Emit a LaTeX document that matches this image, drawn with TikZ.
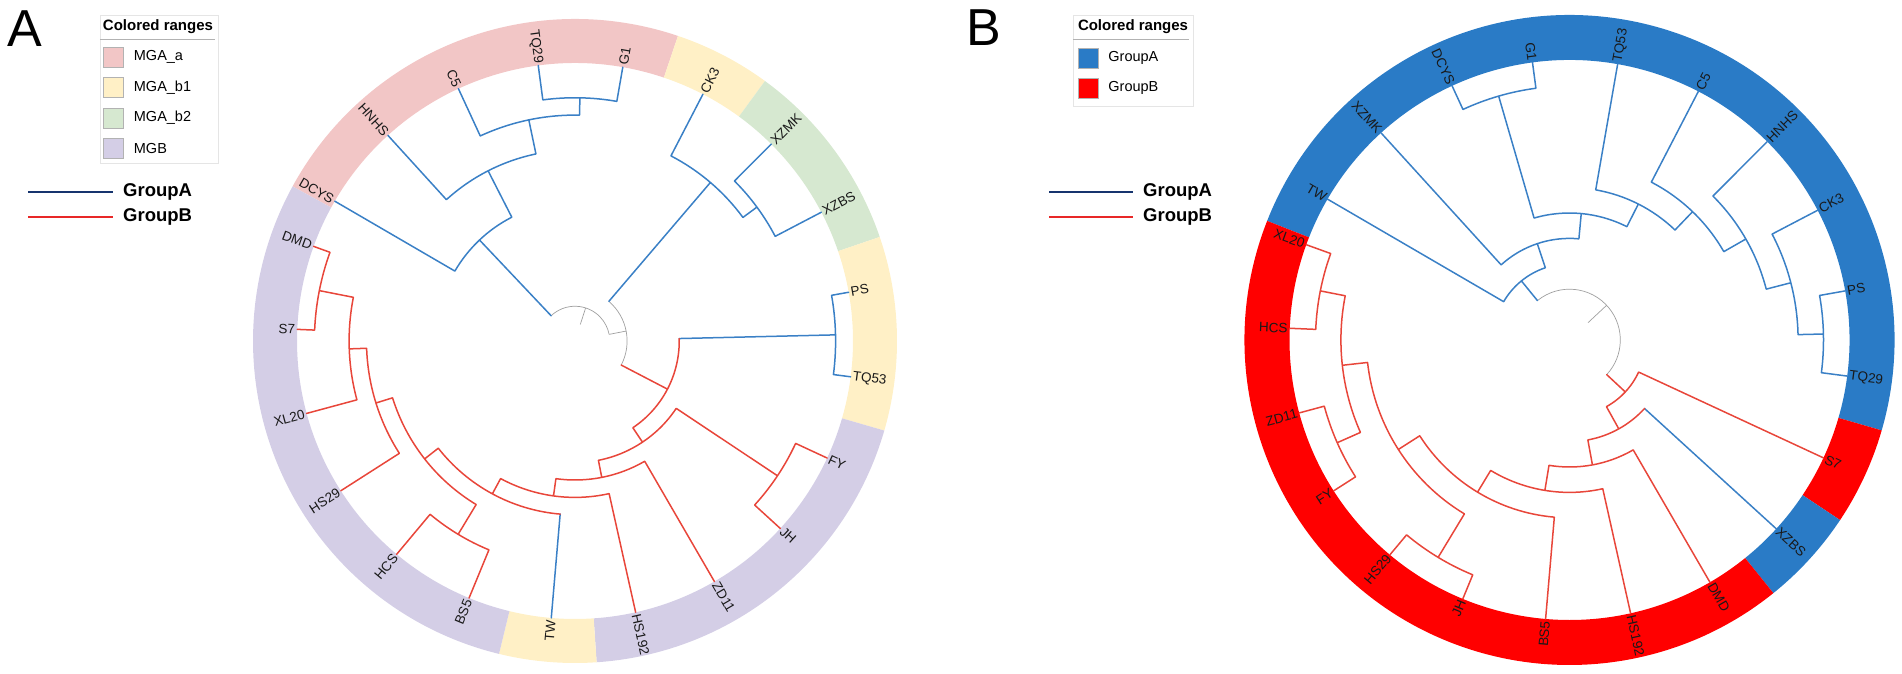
\documentclass[tikz,border=0pt]{standalone}
\usepackage{fontspec}
\setmainfont{Liberation Sans}
\usetikzlibrary{positioning}

\definecolor{treeblue}{RGB}{58,128,198}
\definecolor{treered}{RGB}{232,70,58}
\definecolor{rgpink}{RGB}{242,198,198}
\definecolor{rgyellow}{RGB}{255,240,198}
\definecolor{rggreen}{RGB}{214,232,208}
\definecolor{rgpurple}{RGB}{212,206,230}
\definecolor{ringblue}{RGB}{42,123,198}
\definecolor{ringred}{RGB}{255,0,0}
\definecolor{grpAline}{RGB}{22,52,110}
\definecolor{grpBline}{RGB}{232,40,40}

% radial branch: angle, from radius, to radius
\newcommand{\br}[3]{(#1:#2pt) -- (#1:#3pt)}
% arc of an inner node: radius, from angle, to angle
\newcommand{\ar}[3]{(#2:#1pt) arc[start angle=#2, end angle=#3, radius=#1pt]}
% coloured range: colour, from angle, to angle, inner radius, outer radius
\newcommand{\band}[5]{\fill[#1] (#2:#4pt) arc[start angle=#2, end angle=#3, radius=#4pt] -- (#3:#5pt) arc[start angle=#3, end angle=#2, radius=#5pt] -- cycle;}
% leaf labels: name, text, angle, radius
\newcommand{\lfR}[4]{\node[leaf, anchor=west, rotate=#3] (#1) at (#3:#4pt) {#2};}
\newcommand{\lfL}[4]{\node[leaf, anchor=east, rotate=#3+180] (#1) at (#3:#4pt) {#2};}

\begin{document}
\begin{tikzpicture}[x=1pt, y=1pt,
  bluebr/.style={treeblue, line width=1.5pt, line cap=round},
  redbr/.style={treered, line width=1.5pt, line cap=round},
  rootbr/.style={gray!75, line width=0.7pt},
  leaf/.style={font=\fontsize{13.5}{13.5}\selectfont, inner sep=1pt, text=black!90},
  panel/.style={font=\fontsize{52}{52}\selectfont, inner sep=0pt},
  legbox/.style={draw=black!10, fill=white, inner sep=0pt},
  legtitle/.style={font=\bfseries\fontsize{15}{15}\selectfont, inner sep=0pt},
  swatch/.style={draw=black!30, minimum size=20pt, inner sep=0pt},
  legtxt/.style={font=\fontsize{14.5}{14.5}\selectfont, inner sep=0pt},
  grptxt/.style={font=\bfseries\fontsize{18.5}{18.5}\selectfont, inner sep=0pt, anchor=west}]
  \useasboundingbox (0,0) rectangle (1902,673);

  % Panel letters
  \node[panel] (panelA) at (24.5,644.5) {A};
  \node[panel] (panelB) at (984,645) {B};

  % Legend of tree A
  \node[legbox, minimum width=118pt, minimum height=148pt] (legA) at (159,584) {};
  \node[legtitle] (legAtitle) at (158,646) {Colored ranges};
  \draw[gray!60, line width=1pt] (legA.west |- 0,633) -- ++(115,0);
  \node[swatch, fill=rgpink] (swA1) at (113.5,616) {};
  \node[swatch, fill=rgyellow, below=10pt of swA1] (swA2) {};
  \node[swatch, fill=rggreen, below=10pt of swA2] (swA3) {};
  \node[swatch, fill=rgpurple, below=10pt of swA3] (swA4) {};
  \node[legtxt, right=10pt of swA1] (txA1) {MGA\_a};
  \node[legtxt, right=10pt of swA2] (txA2) {MGA\_b1};
  \node[legtxt, right=10pt of swA3] (txA3) {MGA\_b2};
  \node[legtxt, right=10pt of swA4] (txA4) {MGB};
  \node[grptxt] (gA1) at (123,480.7) {GroupA};
  \node[grptxt] (gB1) at (123,456.3) {GroupB};
  \coordinate (lnA1) at (28,480.7);
  \coordinate (lnB1) at (28,456.3);
  \draw[grpAline, line width=1.8pt] (lnA1) -- ([xshift=-10pt]gA1.west);
  \draw[grpBline, line width=1.8pt] (lnB1) -- ([xshift=-10pt]gB1.west);

  % Legend of tree B
  \node[legbox, minimum width=120pt, minimum height=91pt] (legB) at (1133,612.5) {};
  \node[legtitle] (legBtitle) at (1133,646) {Colored ranges};
  \draw[gray!60, line width=1pt] (legB.west |- 0,633) -- ++(116,0);
  \node[swatch, fill=ringblue] (swB1) at (1088,615) {};
  \node[swatch, fill=ringred, below=10pt of swB1] (swB2) {};
  \node[legtxt, right=10pt of swB1] (txB1) {GroupA};
  \node[legtxt, right=10pt of swB2] (txB2) {GroupB};
  \node[grptxt] (gA2) at (1143,480.7) {GroupA};
  \node[grptxt] (gB2) at (1143,456.3) {GroupB};
  \coordinate (lnA2) at (1049,480.7);
  \coordinate (lnB2) at (1049,456.3);
  \draw[grpAline, line width=1.8pt] (lnA2) -- ([xshift=-10pt]gA2.west);
  \draw[grpBline, line width=1.8pt] (lnB2) -- ([xshift=-10pt]gB2.west);

  % Tree A
  \begin{scope}[shift={(575,332)}]
    % colored ranges
    \band{rgpink}{151.3}{71.35}{278}{322}
    \band{rgyellow}{71.35}{53.85}{278}{322}
    \band{rggreen}{53.85}{18.85}{278}{322}
    \band{rgyellow}{18.85}{-16.15}{278}{322}
    \band{rgpurple}{-16.15}{-86.15}{278}{322}
    \band{rgyellow}{-86.15}{-103.65}{278}{322}
    \band{rgpurple}{-103.65}{-208.7}{278}{322}
    % root
    \draw[rootbr] \br{72.2}{17.4}{34.75} \ar{34.75}{133.4}{11} \br{11}{34.75}{52.1} \ar{52.1}{49.5}{-27.5};
    % GroupA branches
    \draw[bluebr] \br{133.4}{34.75}{139} \ar{139}{149.8}{117.05} \br{149.8}{139}{278}
      \br{117.05}{139}{191.1} \ar{191.1}{132.3}{101.8} \br{132.3}{191.1}{278}
      \br{101.8}{191.1}{225.9} \ar{225.9}{114.8}{88.85} \br{114.8}{225.9}{278}
      \br{88.85}{225.9}{243.25} \ar{243.25}{97.6}{80.1} \br{97.6}{243.25}{278} \br{80.1}{243.25}{278};
    \draw[bluebr] \br{49.5}{52.1}{208.5} \ar{208.5}{62.6}{36.35} \br{62.6}{208.5}{278}
      \br{36.35}{208.5}{225.9} \ar{225.9}{45.1}{27.6} \br{45.1}{225.9}{278} \br{27.6}{225.9}{278};
    \draw[bluebr] \br{1.35}{104.25}{260.6} \ar{260.6}{10.1}{-7.4} \br{10.1}{260.6}{278} \br{-7.4}{260.6}{278}
      \br{-94.9}{173.75}{278};
    % GroupB branches
    \draw[redbr] \br{-27.5}{52.1}{104.25} \ar{104.25}{1.35}{-56.3}
      \br{-56.3}{104.25}{121.6} \ar{121.6}{-33.65}{-78.9}
      \br{-33.65}{121.6}{243.25} \ar{243.25}{-24.9}{-42.4} \br{-24.9}{243.25}{278} \br{-42.4}{243.25}{278}
      \br{-78.9}{121.6}{139} \ar{139}{-59.9}{-97.9} \br{-59.9}{139}{278}
      \br{-97.9}{139}{156.4} \ar{156.4}{-77.4}{-118.4} \br{-77.4}{156.4}{278}
      \br{-118.4}{156.4}{173.75} \ar{173.75}{-94.9}{-141.9}
      \br{-141.9}{173.75}{191.1} \ar{191.1}{-121.15}{-162.7}
      \br{-121.15}{191.1}{225.9} \ar{225.9}{-112.4}{-129.9} \br{-112.4}{225.9}{278} \br{-129.9}{225.9}{278}
      \br{-162.7}{191.1}{208.5} \ar{208.5}{-147.4}{-178} \br{-147.4}{208.5}{278}
      \br{-178}{208.5}{225.9} \ar{225.9}{-164.9}{-191.15} \br{-164.9}{225.9}{278}
      \br{-191.15}{225.9}{260.6} \ar{260.6}{-182.4}{-199.9} \br{-182.4}{260.6}{278} \br{-199.9}{260.6}{278};
    % leaf labels
    \lfL{aTQ29}{TQ29}{97.6}{279}
    \lfR{aG1}{G1}{80.1}{279}
    \lfR{aCK3}{CK3}{62.6}{279}
    \lfR{aXZMK}{XZMK}{45.1}{279}
    \lfR{aXZBS}{XZBS}{27.6}{279}
    \lfR{aPS}{PS}{10.1}{279}
    \lfR{aTQ53}{TQ53}{-7.4}{279}
    \lfR{aFY}{FY}{-24.9}{279}
    \lfR{aJH}{JH}{-42.4}{279}
    \lfR{aZD11}{ZD11}{-59.9}{279}
    \lfR{aHS192}{HS192}{-77.4}{279}
    \lfL{aTW}{TW}{-94.9}{279}
    \lfL{aBS5}{BS5}{-112.4}{279}
    \lfL{aHCS}{HCS}{-129.9}{279}
    \lfL{aHS29}{HS29}{-147.4}{279}
    \lfL{aXL20}{XL20}{-164.9}{279}
    \lfL{aS7}{S7}{177.6}{279}
    \lfL{aDMD}{DMD}{160.1}{279}
    \lfL{aDCYS}{DCYS}{149.8}{279}
    \lfL{aHNHS}{HNHS}{132.3}{279}
    \lfL{aC5}{C5}{114.8}{279}
  \end{scope}

  % Tree B
  \begin{scope}[shift={(1569.5,333)}]
    % colored ranges
    \band{ringblue}{158.5}{-16.15}{280}{325}
    \band{ringred}{-16.15}{-33.65}{280}{325}
    \band{ringblue}{-33.65}{-51.15}{280}{325}
    \band{ringred}{-51.15}{-201.5}{280}{325}
    % root
    \draw[rootbr] \br{43.1}{25.4}{50.8} \ar{50.8}{129.15}{-42.95};
    % GroupA branches
    \draw[bluebr] \br{129.15}{50.8}{76.2} \ar{76.2}{149.8}{108.5} \br{149.8}{76.2}{280}
      \br{108.5}{76.2}{101.6} \ar{101.6}{132.3}{84.7} \br{132.3}{101.6}{280}
      \br{84.7}{101.6}{127} \ar{127}{106.2}{63.15}
      \br{106.2}{127}{254} \ar{254}{114.8}{97.6} \br{114.8}{254}{280} \br{97.6}{254}{280}
      \br{63.15}{127}{152.4} \ar{152.4}{80.1}{46.2} \br{80.1}{152.4}{280}
      \br{46.2}{152.4}{177.8} \ar{177.8}{62.6}{29.8} \br{62.6}{177.8}{280}
      \br{29.8}{177.8}{203.2} \ar{203.2}{45.1}{14.5} \br{45.1}{203.2}{280}
      \br{14.5}{203.2}{228.6} \ar{228.6}{27.6}{1.35} \br{27.6}{228.6}{280}
      \br{1.35}{228.6}{254} \ar{254}{10.1}{-7.4} \br{10.1}{254}{280} \br{-7.4}{254}{280}
      \br{-42.4}{101.6}{280};
    % GroupB branches
    \draw[redbr] \br{-42.95}{50.8}{76.2} \ar{76.2}{-24.9}{-61} \br{-24.9}{76.2}{280}
      \br{-61}{76.2}{101.6} \ar{101.6}{-42.4}{-79.6}
      \br{-79.6}{101.6}{127} \ar{127}{-59.9}{-99.3} \br{-59.9}{127}{280}
      \br{-99.3}{127}{152.4} \ar{152.4}{-77.4}{-121.15} \br{-77.4}{152.4}{280}
      \br{-121.15}{152.4}{177.8} \ar{177.8}{-94.9}{-147.4} \br{-94.9}{177.8}{280}
      \br{-147.4}{177.8}{203.2} \ar{203.2}{-121.15}{-173.65}
      \br{-121.15}{203.2}{254} \ar{254}{-112.4}{-129.9} \br{-112.4}{254}{280} \br{-129.9}{254}{280}
      \br{-173.65}{203.2}{228.6} \ar{228.6}{-156.15}{-191.15}
      \br{-156.15}{228.6}{254} \ar{254}{-147.4}{-164.9} \br{-147.4}{254}{280} \br{-164.9}{254}{280}
      \br{-191.15}{228.6}{254} \ar{254}{-182.4}{-199.9} \br{-182.4}{254}{280} \br{-199.9}{254}{280};
    % leaf labels
    \lfL{bG1}{G1}{97.6}{281}
    \lfR{bTQ53}{TQ53}{80.1}{281}
    \lfR{bC5}{C5}{62.6}{281}
    \lfR{bHNHS}{HNHS}{45.1}{281}
    \lfR{bCK3}{CK3}{27.6}{281}
    \lfR{bPS}{PS}{10.1}{281}
    \lfR{bTQ29}{TQ29}{-7.4}{281}
    \lfR{bS7}{S7}{-24.9}{281}
    \lfR{bXZBS}{XZBS}{-42.4}{281}
    \lfR{bDMD}{DMD}{-59.9}{281}
    \lfR{bHS192}{HS192}{-77.4}{281}
    \lfL{bBS5}{BS5}{-94.9}{281}
    \lfL{bJH}{JH}{-112.4}{281}
    \lfL{bHS29}{HS29}{-129.9}{281}
    \lfL{bFY}{FY}{-147.4}{281}
    \lfL{bZD11}{ZD11}{-164.9}{281}
    \lfL{bHCS}{HCS}{177.6}{281}
    \lfL{bXL20}{XL20}{160.1}{281}
    \lfL{bTW}{TW}{149.8}{281}
    \lfL{bXZMK}{XZMK}{132.3}{281}
    \lfL{bDCYS}{DCYS}{114.8}{281}
  \end{scope}
\end{tikzpicture}
\end{document}
